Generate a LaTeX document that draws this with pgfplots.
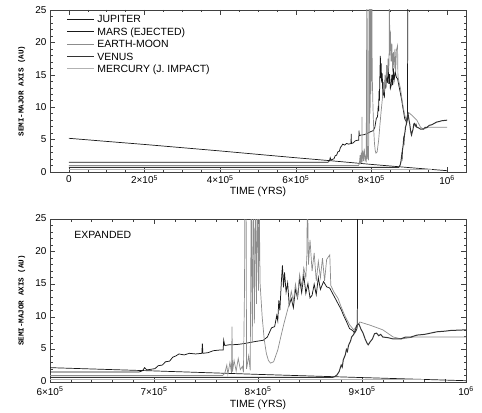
\documentclass[border=0pt]{standalone}
\usepackage{pgfplots}
\usepackage{pgfplotstable}
\pgfplotsset{compat=1.18}
\usepackage{fontspec}
\setmainfont{Liberation Sans}
\setmonofont{Liberation Mono}

\pgfplotstableread{
t a
0 5.2
1 4.72
2 4.25
3 3.75
4 3.25
5 2.72
6 2.2
7 1.7
8 1.17
9 0.68
10 0.2
}\jup

\pgfplotstableread{
t a
0 1.52
6.85 1.52
6.87 1.6
6.89 1.75
6.91 2.2
6.93 1.85
6.97 1.95
7.01 2.05
7.04 2.5
7.08 2.6
7.11 3.1
7.15 3.2
7.18 3.8
7.21 4.0
7.24 4.3
7.29 4.15
7.34 4.4
7.40 4.3
7.46 4.4
7.465 5.9
7.47 4.4
7.52 4.5
7.57 4.8
7.63 4.9
7.665 4.9
7.67 6.4
7.68 5.6
7.72 5.7
7.80 5.75
7.87 5.9
7.97 6.2
8.05 6.4
8.09 6.9
8.11 7.6
8.13 8.3
8.16 8.5
8.18 10.2
8.19 9.4
8.20 12.5
8.21 11.0
8.225 15.5
8.235 17.9
8.245 14.5
8.255 16.8
8.27 13.8
8.285 15.2
8.30 11.8
8.32 12.8
8.34 11.4
8.36 14.2
8.38 12.9
8.40 15.8
8.42 13.7
8.44 16.4
8.46 13.6
8.48 15.1
8.50 12.9
8.52 13.3
8.54 15.0
8.56 13.4
8.58 16.0
8.60 14.2
8.63 15.4
8.66 14.6
8.69 14.4
8.72 13.5
8.76 12.3
8.80 11.1
8.82 10.3
8.85 9.3
8.88 8.2
8.91 7.9
8.93 7.5
8.95 8.1
8.955 8.6
8.96 40
}\mars

\pgfplotstableread{
t a
0 1.0
7.66 1.0
7.68 1.3
7.70 2.6
7.71 1.2
7.73 3.0
7.745 1.4
7.75 8.5
7.755 1.6
7.77 3.3
7.79 1.7
7.81 3.6
7.83 1.9
7.85 2.4
7.86 1.5
7.87 14
7.875 30
7.885 30
7.89 2.0
7.91 4.0
7.925 1.8
7.935 30
7.945 6
7.955 30
7.965 9
7.975 30
7.985 12
7.995 30
8.005 14
8.01 30
8.02 15.1
8.04 10.0
8.06 6.5
8.08 4.4
8.10 3.3
8.12 2.9
8.15 3.1
8.19 4.9
8.22 7.0
8.25 9.0
8.28 10.8
8.30 12.0
8.32 13.9
8.34 12.3
8.36 15.0
8.38 13.0
8.40 16.5
8.42 14.6
8.44 17.5
8.46 16.0
8.47 19.5
8.475 30
8.485 18.0
8.50 21.8
8.52 17.0
8.54 19.8
8.56 15.5
8.58 18.5
8.60 16.0
8.62 19.0
8.64 15.5
8.66 18.8
8.69 19.5
8.70 14.8
8.73 13.8
8.77 12.8
8.80 11.5
8.84 10.0
8.88 8.8
8.92 8.0
8.95 8.6
8.98 9.2
9.08 8.7
9.20 8.0
9.30 6.9
9.38 6.6
9.50 6.9
10.0 6.9
}\earth

\pgfplotstableread{
t a
0 0.72
8.72 0.72
8.74 0.85
8.76 1.1
8.78 1.6
8.80 2.6
8.81 2.3
8.82 3.4
8.84 4.2
8.85 5.0
8.86 4.7
8.87 5.6
8.89 6.3
8.90 6.9
8.92 7.3
8.94 8.2
8.95 8.7
8.97 8.9
8.99 8.1
9.01 7.5
9.03 6.6
9.05 5.9
9.06 5.7
9.08 6.2
9.10 6.6
9.12 7.4
9.14 7.5
9.16 7.1
9.18 7.3
9.20 6.9
9.25 6.8
9.30 6.6
9.37 6.6
9.42 6.9
9.47 6.9
9.53 7.2
9.60 7.3
9.66 7.5
9.72 7.7
9.80 7.8
9.85 7.9
10.0 8.0
}\venus

\pgfplotstableread{
t a
0 0.39
9.6 0.39
}\merc

\pgfplotsset{
  common/.style={
    scale only axis, width=416bp, anchor=south west,
    ymin=0, ymax=25, ytick={0,5,10,15,20,25}, minor y tick num=4,
    tick align=inside, major tick length=5bp, minor tick length=2.5bp,
    every tick/.style={black!75, line width=0.5pt},
    axis line style={black!75, line width=0.6pt},
    tick label style={font=\fontsize{10}{12}\selectfont},
    /pgf/number format/assume math mode=true,
    scaled x ticks=false,
    ylabel={SEMI-MAJOR AXIS (AU)},
    ylabel style={font=\ttfamily\bfseries\fontsize{7.6}{9}\selectfont, at={(axis description cs:-0.068,0.5)}, anchor=center},
    xlabel={TIME (YRS)},
    xlabel style={font=\fontsize{10.5}{12}\selectfont, anchor=center},
  },
  jup/.style={black!90, line width=0.7pt},
  mars/.style={black!90, line width=0.75pt},
  earth/.style={black!45, line width=0.7pt},
  venus/.style={black!80, line width=1pt},
  merc/.style={black!30, line width=0.8pt},
}

\begin{document}
\begin{tikzpicture}
\path[use as bounding box] (0,0) rectangle (482bp,413bp);

\begin{axis}[common, at={(50bp,241bp)}, height=162bp,
  xmin=-0.5, xmax=10.5, xtick={0,2,4,6,8,10},
  xticklabels={0,{2×10\textsuperscript{5}},{4×10\textsuperscript{5}},{6×10\textsuperscript{5}},{8×10\textsuperscript{5}},{10\textsuperscript{6}}},
  minor x tick num=3,
  xlabel style={at={(axis description cs:0.5,-0.12)}},
  legend style={at={(rel axis cs:0.04,0.985)}, anchor=north west, draw=none, fill=none,
    font=\fontsize{10.5}{12}\selectfont, inner sep=0pt, row sep=0pt,
    nodes={text height=7.5bp, text depth=0bp, inner sep=2.5bp}},
  legend cell align=left,
  legend image code/.code={\draw[#1] (0bp,0bp) -- (27bp,0bp);},
]
\addplot[jup] table[x=t,y=a] {\jup};
\addplot[mars] table[x=t,y=a] {\mars};
\addplot[earth] table[x=t,y=a] {\earth};
\addplot[venus] table[x=t,y=a] {\venus};
\addplot[merc] table[x=t,y=a] {\merc};
\legend{JUPITER, MARS (EJECTED), EARTH-MOON, VENUS, MERCURY (J. IMPACT)}
\end{axis}

\begin{axis}[common, at={(50bp,31bp)}, height=163bp,
  xmin=6, xmax=10, xtick={6,7,8,9,10},
  xticklabels={{6×10\textsuperscript{5}},{7×10\textsuperscript{5}},{8×10\textsuperscript{5}},{9×10\textsuperscript{5}},{10\textsuperscript{6}}},
  minor x tick num=4,
  xticklabel style={yshift=-1.5bp},
  yticklabel style={yshift=1bp},
  xlabel style={at={(axis description cs:0.5,-0.141)}},
]
\addplot[jup] table[x=t,y=a] {\jup};
\addplot[mars] table[x=t,y=a] {\mars};
\addplot[earth] table[x=t,y=a] {\earth};
\addplot[venus] table[x=t,y=a] {\venus};
\addplot[merc] table[x=t,y=a] {\merc};
\node[anchor=west, font=\fontsize{10.5}{12}\selectfont] at (rel axis cs:0.05,0.90) {EXPANDED};
\end{axis}
\end{tikzpicture}
\end{document}
